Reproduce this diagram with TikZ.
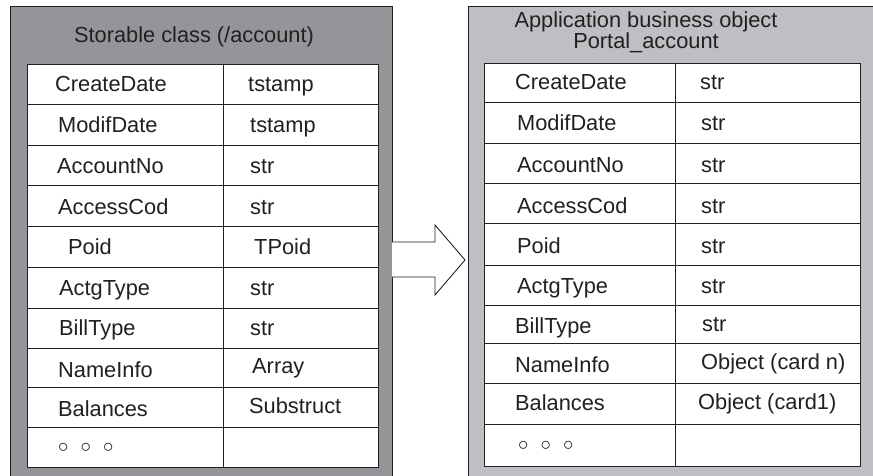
\documentclass[tikz,border=0pt]{standalone}
\usepackage{fontspec}
\setmainfont{Liberation Sans}
\definecolor{darkgray1}{HTML}{939598}
\definecolor{lightgray1}{HTML}{BEBFC2}
\definecolor{ink}{HTML}{231F20}
\begin{document}
\begin{tikzpicture}[x=1pt,y=-1pt,
  lbl/.style={anchor=base west,inner sep=0pt,text=ink,font=\fontsize{21.8}{24}\selectfont},
  ttl/.style={inner sep=0pt,text=ink,font=\fontsize{21.8}{24}\selectfont,align=center},
  outer/.style={draw=ink,line width=1pt},
  tab/.style={draw=ink,line width=0.9pt,fill=white},
  rule/.style={draw=ink,line width=0.9pt}]
\useasboundingbox (0,0) rectangle (873,476);
% outer boxes
\path[outer,fill=darkgray1] (10,7) rectangle (392,480);
\path[outer,fill=lightgray1] (468,7) rectangle (880,480);
% left table
\path[tab] (27,64) rectangle (378,467);
\path[rule] (223,64) -- (223,467);
\foreach \y in {104,145,185,226,267,308,348,387,427}
  \path[rule] (27,\y) -- (378,\y);
% right table
\path[tab] (484,63) rectangle (860,466);
\path[rule] (675,63) -- (675,466);
\foreach \y in {102,143,183,223,265,305,343,383,424}
  \path[rule] (484,\y) -- (860,\y);
% titles
\node[ttl] (ltitle) at (194,37) {Storable class (/account)};
\node[ttl] (rtitle) at (646,32) {Application business object\\[-3pt]Portal\_account};
% left labels (baseline coordinates)
\node[lbl] (l1) at (55,92) {CreateDate};
\node[lbl] (l1t) at (248,92) {tstamp};
\node[lbl] (l2) at (58,133) {ModifDate};
\node[lbl] (l2t) at (250,133) {tstamp};
\node[lbl] (l3) at (57,174) {AccountNo};
\node[lbl] (l3t) at (250,174) {str};
\node[lbl] (l4) at (58,214) {AccessCod};
\node[lbl] (l4t) at (250,214) {str};
\node[lbl] (l5) at (68,254) {Poid};
\node[lbl] (l5t) at (254,254) {TPoid};
\node[lbl] (l6) at (59,295) {ActgType};
\node[lbl] (l6t) at (250,295) {str};
\node[lbl] (l7) at (59,335) {BillType};
\node[lbl] (l7t) at (250,335) {str};
\node[lbl] (l8) at (58,377) {NameInfo};
\node[lbl] (l8t) at (252,373) {Array};
\node[lbl] (l9) at (58,416) {Balances};
\node[lbl] (l9t) at (249,413) {Substruct};
\node[lbl] (l10) at (58,452) {$\circ$\ \ $\circ$\ \ $\circ$};
% right labels
\node[lbl] (r1) at (515,90) {CreateDate};
\node[lbl] (r1t) at (700,90) {str};
\node[lbl] (r2) at (517,131) {ModifDate};
\node[lbl] (r2t) at (701,131) {str};
\node[lbl] (r3) at (517,172) {AccountNo};
\node[lbl] (r3t) at (701,172) {str};
\node[lbl] (r4) at (517,213) {AccessCod};
\node[lbl] (r4t) at (701,213) {str};
\node[lbl] (r5) at (517,253) {Poid};
\node[lbl] (r5t) at (701,253) {str};
\node[lbl] (r6) at (517,293) {ActgType};
\node[lbl] (r6t) at (701,293) {str};
\node[lbl] (r7) at (515,333) {BillType};
\node[lbl] (r7t) at (702,331) {str};
\node[lbl] (r8) at (515,372) {NameInfo};
\node[lbl] (r8t) at (701,369) {Object (card n)};
\node[lbl] (r9) at (515,410) {Balances};
\node[lbl] (r9t) at (698,409) {Object (card1)};
\node[lbl] (r10) at (518,450) {$\circ$\ \ $\circ$\ \ $\circ$};
% big hollow arrow
\coordinate (abase) at (392,260);
\coordinate (atip) at (465,260);
\draw[draw=ink,line width=0.9pt,fill=white]
  (392,242) -- (435,242) -- (435,225) -- (atip) -- (435,295) -- (435,277) -- (392,277);
\end{tikzpicture}
\end{document}
